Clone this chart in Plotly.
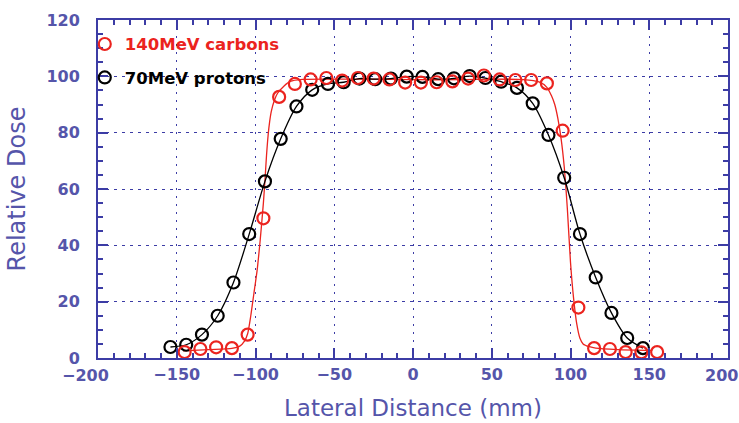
import plotly.graph_objects as go

# --- data ---
carbon_x = [-145, -135, -125, -115, -105, -95, -85, -75, -65, -55, -45, -35, -25, -15, -5,
            5, 15, 25, 35, 45, 55, 65, 75, 85, 95, 105, 115, 125, 135, 145, 155]
carbon_y = [2.1, 3.2, 3.8, 3.5, 8.3, 49.6, 92.7, 97.3, 98.9, 99.4, 98.5, 99.4, 99.2, 98.9, 97.8,
            97.8, 97.9, 98.2, 99.2, 100.3, 98.9, 98.7, 98.7, 97.5, 80.7, 17.9, 3.5, 3.2, 2.1, 2.0, 2.1]

proton_x = [-154, -144, -134, -124, -114, -104, -94, -84, -74, -64, -54, -44, -34, -24, -14, -4,
            6, 16, 26, 36, 46, 56, 66, 76, 86, 96, 106, 116, 126, 136, 146]
proton_y = [3.9, 4.7, 8.3, 15.0, 26.8, 44.0, 62.7, 77.8, 89.3, 95.2, 97.3, 97.9, 99.2, 99.0, 99.2, 99.9,
            99.8, 99.0, 99.3, 100.1, 99.4, 98.1, 95.9, 90.4, 79.2, 64.0, 44.0, 28.6, 16.0, 7.1, 3.5]

# fitted carbon curve
carbon_fit_x = [-146, -130, -115, -110, -107, -105, -103, -101, -99, -97, -95, -94, -93, -92, -91,
                -90, -88, -86, -82, -78, -70, -50, -30, 0, 30, 50, 70, 80, 85, 88, 90, 92, 94, 96,
                98, 100, 102, 104, 106, 108, 112, 116, 130, 152]
carbon_fit_y = [2.5, 3.0, 3.4, 4.2, 6.0, 8.6, 15, 23, 31, 42, 55, 63, 72, 79, 84,
                87.5, 91.5, 94, 96.5, 98.2, 98.9, 99, 99, 98.8, 98.8, 99, 98.8, 98, 96.1, 93, 90, 85, 78, 68,
                53, 34, 21, 12, 7, 5, 4, 3.5, 3.0, 2.7]

x_ticks = [-200, -150, -100, -50, 0, 50, 100, 150, 200]
x_labels = ["\u2212200", "\u2212150", "\u2212100", "\u221250", "0", "50", "100", "150", "200"]
y_ticks = [0, 20, 40, 60, 80, 100, 120]

RED = "rgb(235,35,30)"
BLUE = "rgb(60,60,165)"
LBLUE = "rgb(85,85,170)"
TICKFONT = dict(family="DejaVu Sans", size=16, color=LBLUE, weight="bold")

fig = go.Figure()
fig.add_trace(go.Scatter(x=carbon_fit_x, y=carbon_fit_y, mode="lines",
                         line=dict(color=RED, width=1.3, shape="spline", smoothing=0.6),
                         showlegend=False, hoverinfo="skip", cliponaxis=False))
fig.add_trace(go.Scatter(x=proton_x, y=proton_y, mode="lines",
                         line=dict(color="black", width=1.3, shape="spline", smoothing=0.8),
                         showlegend=False, hoverinfo="skip", cliponaxis=False))
fig.add_trace(go.Scatter(x=proton_x, y=proton_y, mode="markers",
                         marker=dict(symbol="circle-open", size=12, color="black", line=dict(width=2.2)),
                         showlegend=False, cliponaxis=False))
fig.add_trace(go.Scatter(x=carbon_x, y=carbon_y, mode="markers",
                         marker=dict(symbol="circle-open", size=12, color=RED, line=dict(width=2.2)),
                         showlegend=False, cliponaxis=False))
# legend entries
fig.add_trace(go.Scatter(x=[None], y=[None], mode="markers", name="<span style='color:" + RED + "'>140MeV carbons</span>",
                         marker=dict(symbol="circle-open", size=12, color=RED, line=dict(width=2.2)),
                         legendgroup="c"))
fig.add_trace(go.Scatter(x=[None], y=[None], mode="markers", name="70MeV protons",
                         marker=dict(symbol="circle-open", size=12, color="black", line=dict(width=2.2)),
                         legendgroup="p"))

# x tick labels: inner ones on the axis, the two end ones as right-anchored annotations
axis_text = [t if v not in (x_ticks[0], x_ticks[-1]) else "" for v, t in zip(x_ticks, x_labels)]
edge_shift = {x_ticks[0]: 12, x_ticks[-1]: 11}
annotations = []
for v, t in zip(x_ticks, x_labels):
    if v in edge_shift:
        annotations.append(dict(x=v, xref="x", y=0, yref="paper", text=t, showarrow=False,
                                xanchor="right", yanchor="top", xshift=edge_shift[v], yshift=-7,
                                borderpad=0, font=TICKFONT))

fig.update_layout(
    width=739, height=423,
    margin=dict(l=98, r=11, t=20, b=65, autoexpand=False),
    plot_bgcolor="white", paper_bgcolor="white",
    showlegend=True,
    annotations=annotations,
    legend=dict(x=-0.021, y=0.98, xanchor="left", yanchor="top", bgcolor="rgba(0,0,0,0)",
                font=dict(family="DejaVu Sans", size=16.5, color="black", weight="bold"),
                tracegroupgap=9, itemclick=False),
)
fig.update_xaxes(
    range=[-200, 200], tickvals=x_ticks, ticktext=axis_text,
    automargin=False,
    showline=True, linecolor=BLUE, linewidth=2, mirror="allticks",
    ticks="inside", ticklen=10, tickwidth=1.5, tickcolor=BLUE,
    minor=dict(dtick=10, ticks="inside", ticklen=5, tickwidth=1.5, tickcolor=BLUE, showgrid=False),
    showgrid=True, gridcolor=BLUE, gridwidth=1.3, griddash="2px,6px",
    zeroline=False,
    tickfont=TICKFONT,
    ticklabelstandoff=1,
    title=dict(text="Lateral Distance (mm)", font=dict(family="DejaVu Sans", size=23, color=LBLUE), standoff=17),
)
fig.update_yaxes(
    range=[0, 120], tickvals=y_ticks, ticktext=[str(v) for v in y_ticks],
    automargin=False,
    showline=True, linecolor=BLUE, linewidth=2, mirror="allticks",
    ticks="inside", ticklen=10, tickwidth=1.5, tickcolor=BLUE,
    minor=dict(dtick=5, ticks="inside", ticklen=5, tickwidth=1.5, tickcolor=BLUE, showgrid=False),
    showgrid=True, gridcolor=BLUE, gridwidth=1.3, griddash="3px,5px",
    zeroline=False,
    tickfont=TICKFONT,
    ticklabelstandoff=13,
    title=dict(text="Relative Dose", font=dict(family="DejaVu Sans", size=24, color=LBLUE), standoff=14),
)

# remove the default page margin so the 739x423 figure fills the window exactly
fig.write_html("out.html",
               config={"displayModeBar": False},
               post_script="document.body.style.margin='0';document.body.style.overflow='hidden';")
